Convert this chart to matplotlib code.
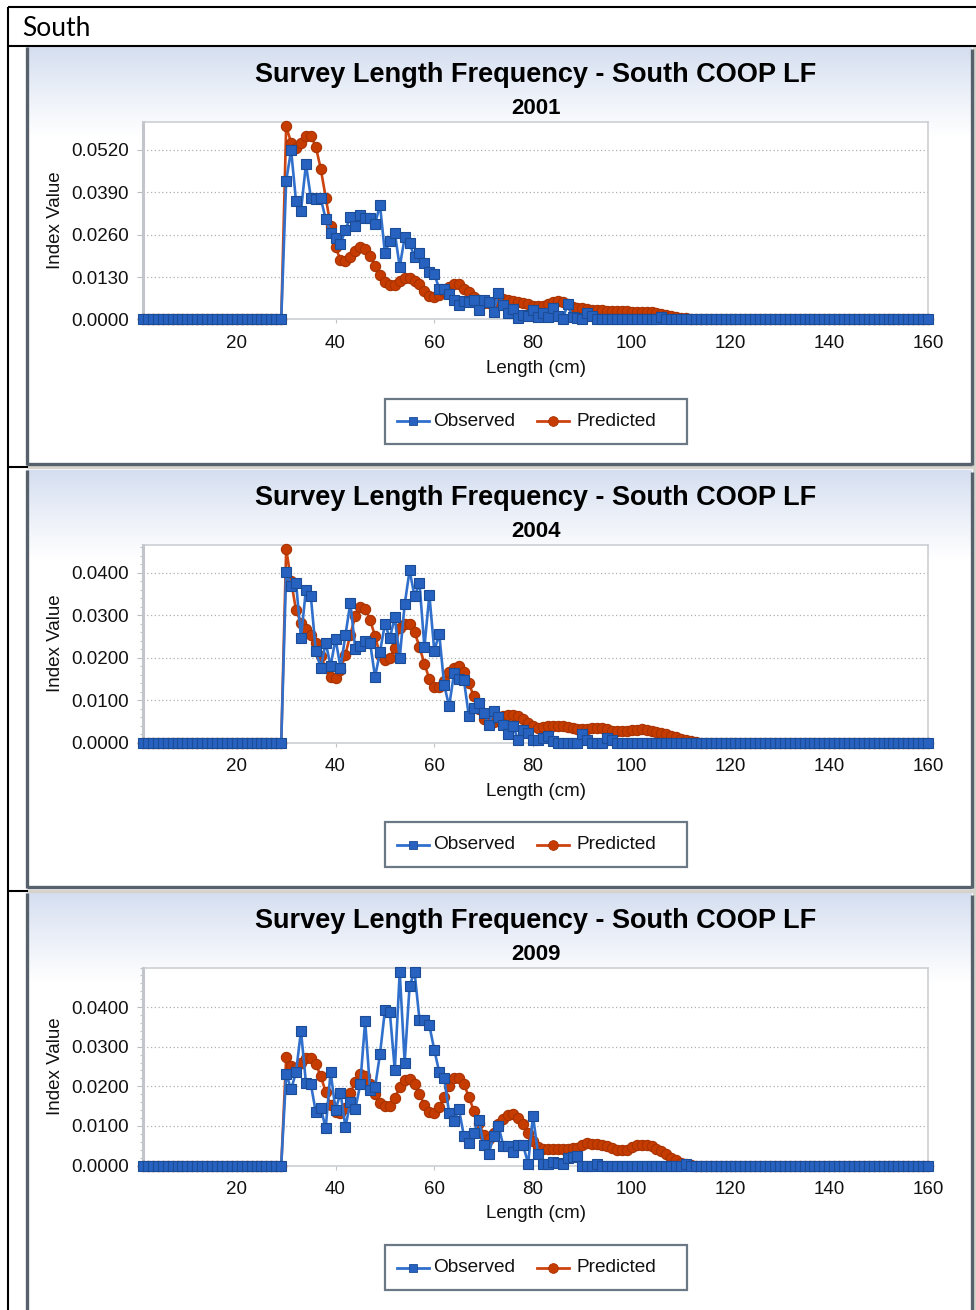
import numpy as np
import matplotlib
matplotlib.use("Agg")
import matplotlib.pyplot as plt
from matplotlib.lines import Line2D
from matplotlib.patches import Rectangle
from matplotlib.ticker import MultipleLocator, FormatStrFormatter, FixedLocator

# ---------------- data ----------------
lengths = np.arange(1, 161)          # length bins (cm)
first_bin = 29                       # first bin of the listed values; all other bins are 0

years = ["2001", "2004", "2009"]

obs_2001 = [0.0, 0.0425, 0.0519, 0.0362, 0.0333, 0.0476, 0.0374, 0.0369, 0.0372, 0.0308,
            0.0265, 0.0249, 0.0231, 0.0275, 0.0315, 0.0288, 0.0320, 0.0311, 0.0310, 0.0293,
            0.0351, 0.0203, 0.0242, 0.0266, 0.0161, 0.0252, 0.0233, 0.0191, 0.0203, 0.0173,
            0.0145, 0.0140, 0.0094, 0.0094, 0.0079, 0.0061, 0.0045, 0.0058, 0.0055, 0.0061,
            0.0030, 0.0060, 0.0053, 0.0022, 0.0082, 0.0043, 0.0020, 0.0033, 0.0005, 0.0014,
            0.0010, 0.0028, 0.0009, 0.0019, 0.0009, 0.0036, 0.0012, 0.0, 0.0046, 0.0007,
            0.0005, 0.0002, 0.0019, 0.0012, 0.0, 0.0, 0.0, 0.0, 0.0, 0.0,
            0.0, 0.0, 0.0, 0.0, 0.0, 0.0, 0.0, 0.0007, 0.0, 0.0]
pred_2001 = [0.0, 0.0593, 0.0542, 0.0527, 0.0542, 0.0563, 0.0563, 0.0530, 0.0462, 0.0374,
             0.0288, 0.0221, 0.0183, 0.0178, 0.0191, 0.0209, 0.0221, 0.0216, 0.0196, 0.0165,
             0.0137, 0.0114, 0.0107, 0.0107, 0.0119, 0.0127, 0.0127, 0.0119, 0.0109, 0.0086,
             0.0071, 0.0068, 0.0075, 0.0088, 0.0100, 0.0109, 0.0108, 0.0094, 0.0084, 0.0070,
             0.0060, 0.0052, 0.0050, 0.0055, 0.0060, 0.0062, 0.0061, 0.0058, 0.0055, 0.0050,
             0.0046, 0.0042, 0.0040, 0.0042, 0.0048, 0.0055, 0.0058, 0.0055, 0.0047, 0.0038,
             0.0035, 0.0034, 0.0032, 0.0030, 0.0029, 0.0028, 0.0027, 0.0026, 0.0026, 0.0025,
             0.0025, 0.0024, 0.0024, 0.0024, 0.0023, 0.0022, 0.0021, 0.0018, 0.0015, 0.0012,
             0.0009, 0.0006, 0.0004, 0.0002, 0.0001, 0.0]

obs_2004 = [0.0, 0.0402, 0.0368, 0.0376, 0.0246, 0.0360, 0.0344, 0.0215, 0.0176, 0.0235,
            0.0180, 0.0244, 0.0176, 0.0252, 0.0329, 0.0220, 0.0227, 0.0240, 0.0235, 0.0154,
            0.0213, 0.0279, 0.0246, 0.0295, 0.0199, 0.0325, 0.0405, 0.0344, 0.0376, 0.0224,
            0.0348, 0.0216, 0.0256, 0.0136, 0.0085, 0.0163, 0.0150, 0.0147, 0.0062, 0.0082,
            0.0093, 0.0070, 0.0042, 0.0074, 0.0060, 0.0042, 0.0021, 0.0038, 0.0005, 0.0030,
            0.0023, 0.0007, 0.0007, 0.0011, 0.0016, 0.0003, 0.0, 0.0, 0.0, 0.0,
            0.0, 0.0019, 0.0005, 0.0, 0.0, 0.0, 0.0011, 0.0007, 0.0, 0.0]
pred_2004 = [0.0, 0.0456, 0.0380, 0.0311, 0.0282, 0.0266, 0.0254, 0.0235, 0.0203, 0.0176,
             0.0154, 0.0151, 0.0170, 0.0207, 0.0254, 0.0297, 0.0318, 0.0315, 0.0289, 0.0250,
             0.0207, 0.0195, 0.0199, 0.0223, 0.0270, 0.0278, 0.0278, 0.0260, 0.0225, 0.0185,
             0.0150, 0.0131, 0.0130, 0.0144, 0.0166, 0.0176, 0.0180, 0.0165, 0.0139, 0.0109,
             0.0078, 0.0056, 0.0048, 0.0048, 0.0055, 0.0062, 0.0065, 0.0064, 0.0062, 0.0056,
             0.0047, 0.0039, 0.0035, 0.0036, 0.0038, 0.0040, 0.0040, 0.0038, 0.0036, 0.0033,
             0.0031, 0.0031, 0.0032, 0.0033, 0.0034, 0.0033, 0.0031, 0.0028, 0.0026, 0.0026,
             0.0027, 0.0029, 0.0030, 0.0031, 0.0030, 0.0028, 0.0025, 0.0022, 0.0019, 0.0016,
             0.0012, 0.0009, 0.0006, 0.0003, 0.0001, 0.0]

obs_2009 = [0.0, 0.0232, 0.0192, 0.0236, 0.0340, 0.0209, 0.0205, 0.0135, 0.0146, 0.0094,
            0.0237, 0.0139, 0.0184, 0.0097, 0.0160, 0.0142, 0.0205, 0.0365, 0.0190, 0.0198,
            0.0281, 0.0392, 0.0387, 0.0241, 0.0489, 0.0260, 0.0454, 0.0489, 0.0368, 0.0368,
            0.0354, 0.0292, 0.0236, 0.0222, 0.0133, 0.0112, 0.0142, 0.0074, 0.0057, 0.0083,
            0.0116, 0.0053, 0.0028, 0.0074, 0.0100, 0.0049, 0.0049, 0.0034, 0.0051, 0.0051,
            0.0005, 0.0125, 0.0030, 0.0005, 0.0005, 0.0008, 0.0007, 0.0003, 0.0019, 0.0022,
            0.0025, 0.0, 0.0, 0.0, 0.0004, 0.0, 0.0, 0.0, 0.0, 0.0,
            0.0, 0.0, 0.0, 0.0, 0.0, 0.0, 0.0, 0.0, 0.0, 0.0,
            0.0, 0.0, 0.0004, 0.0, 0.0]
pred_2009 = [0.0, 0.0274, 0.0251, 0.0247, 0.0258, 0.0271, 0.0271, 0.0256, 0.0226, 0.0186,
             0.0153, 0.0136, 0.0133, 0.0146, 0.0184, 0.0211, 0.0230, 0.0226, 0.0205, 0.0180,
             0.0157, 0.0149, 0.0150, 0.0171, 0.0197, 0.0216, 0.0219, 0.0205, 0.0180, 0.0153,
             0.0135, 0.0132, 0.0148, 0.0172, 0.0201, 0.0220, 0.0222, 0.0205, 0.0174, 0.0138,
             0.0108, 0.0078, 0.0066, 0.0083, 0.0104, 0.0118, 0.0127, 0.0129, 0.0121, 0.0104,
             0.0083, 0.0062, 0.0047, 0.0042, 0.0042, 0.0042, 0.0042, 0.0042, 0.0042, 0.0043,
             0.0045, 0.0051, 0.0056, 0.0055, 0.0054, 0.0052, 0.0049, 0.0045, 0.0040, 0.0038,
             0.0040, 0.0047, 0.0051, 0.0053, 0.0053, 0.0049, 0.0042, 0.0036, 0.0028, 0.0019,
             0.0014, 0.0007, 0.0004, 0.0002, 0.0]

observed = [obs_2001, obs_2004, obs_2009]
predicted = [pred_2001, pred_2004, pred_2009]

y_max = [0.0607, 0.0466, 0.0500]
y_step = [0.013, 0.010, 0.010]
y_top_tick = [0.052, 0.040, 0.040]
y_minor = [None, 0.002, 0.002]
x_ticks = [20, 40, 60, 80, 100, 120, 140, 160]

title_text = "Survey Length Frequency - South COOP LF"
header_text = "South"


def full_series(vals):
    arr = np.zeros(len(lengths))
    start = first_bin - lengths[0]
    arr[start:start + len(vals)] = vals
    return arr


# ---------------- figure ----------------
W, H = 976, 1310
fig = plt.figure(figsize=(W / 100, H / 100), dpi=100)
fig.patch.set_facecolor("white")
CH = "Liberation Sans"


def fx(px):
    return px / W


def fy(py):
    return 1 - py / H


def hline(x0, x1, y, color="black", lw=1.5, z=10):
    fig.add_artist(Line2D([fx(x0), fx(x1)], [fy(y), fy(y)], transform=fig.transFigure,
                          color=color, lw=lw, zorder=z, solid_capstyle="butt"))


def vline(x, y0, y1, color="black", lw=1.5, z=10):
    fig.add_artist(Line2D([fx(x), fx(x)], [fy(y0), fy(y1)], transform=fig.transFigure,
                          color=color, lw=lw, zorder=z, solid_capstyle="butt"))


# table frame
hline(8, 976, 7)
vline(8, 7, 1310)
hline(8, 976, 45.5)
fig.text(fx(22), fy(28), header_text, fontsize=19, family=["Lato", "DejaVu Sans"],
         ha="left", va="center", color="black")

# right grey strip
fig.add_artist(Rectangle((fx(973), fy(1310)), fx(976) - fx(973), (1310 - 47) / H,
                         transform=fig.transFigure, facecolor="#d6d3cc", edgecolor="none", zorder=0))

panel_tops = [47, 470, 893]
panel_bottoms = [465, 888, 1314]
sep_lines = [467.5, 890.5]
for s in sep_lines:
    hline(27, 976, s, color="#d6d3cc", lw=2.5, z=1)
    hline(8, 28, s, color="black", lw=1.5, z=10)

top_col = np.array([0xd4, 0xde, 0xf0]) / 255.0
for i, T in enumerate(panel_tops):
    B = panel_bottoms[i]
    ph = B - T
    bg = fig.add_axes([fx(27), fy(B), fx(972) - fx(27), ph / H], zorder=0)
    bg.set_xlim(0, 945)
    bg.set_ylim(ph, 0)
    bg.axis("off")
    bg.add_patch(Rectangle((0, 0), 945, ph, facecolor="white", edgecolor="none"))
    n = 90
    t = np.linspace(0, 1, n)[:, None]
    grad = top_col[None, None, :] * (1 - t[:, :, None] ** 0.9) + np.ones(3)[None, None, :] * (t[:, :, None] ** 0.9)
    bg.imshow(grad, extent=[0, 945, n, 0], aspect="auto", interpolation="bilinear", zorder=1)
    bg.set_xlim(0, 945)
    bg.set_ylim(ph, 0)
    # border
    vline(27, T, min(B, 1310), color="#56616c", lw=2.4, z=5)
    vline(972, T + 2, min(B, 1310), color="#56616c", lw=2.4, z=5)
    if B < 1310:
        hline(27, 972, B - 1, color="#56616c", lw=2.4, z=5)

    # titles
    fig.text(fx(536), fy(T + 28), title_text, fontsize=19.5, fontweight="bold", family=CH,
             ha="center", va="center", color="black")
    fig.text(fx(536), fy(T + 61.5), years[i], fontsize=16, fontweight="bold", family=CH,
             ha="center", va="center", color="black")

    # plot axes
    ax = fig.add_axes([fx(143), fy(T + 272.5), fx(928) - fx(143), 198 / H], zorder=3)
    ax.set_facecolor("white")
    ax.set_xlim(1, 160)
    ax.set_ylim(0, y_max[i])
    ax.plot(lengths, full_series(predicted[i]), color="#cc4410", lw=1.9,
            marker="o", ms=7.4, mfc="#c63c00", mec="#a83200", mew=0.8,
            clip_on=False, zorder=3)
    ax.plot(lengths, full_series(observed[i]), color="#3070cc", lw=1.9,
            marker="s", ms=7.2, mfc="#2762c0", mec="#1c4c96", mew=0.8,
            clip_on=False, zorder=4)

    yt = np.round(np.arange(0, y_top_tick[i] + 1e-9, y_step[i]), 4)
    ax.yaxis.set_major_locator(FixedLocator(yt))
    ax.yaxis.set_major_formatter(FormatStrFormatter("%.4f"))
    if y_minor[i]:
        ax.yaxis.set_minor_locator(MultipleLocator(y_minor[i]))
    ax.xaxis.set_major_locator(FixedLocator(x_ticks))
    ax.tick_params(axis="y", which="major", length=4, width=0.8, color="#b8bcc0",
                   pad=6, labelsize=13.5, labelcolor="#111111")
    ax.tick_params(axis="y", which="minor", length=2.5, width=0.8, color="#c0c4c8")
    ax.tick_params(axis="x", which="major", length=3, width=0.8, color="#c0c4c8",
                   pad=8, labelsize=13.5, labelcolor="#111111")
    for lab in ax.get_xticklabels() + ax.get_yticklabels():
        lab.set_family(CH)
    ax.grid(axis="y", which="major", linestyle=(0, (1, 2)), color="#b0b0b0", lw=0.9)
    ax.set_axisbelow(True)
    for side, sp in ax.spines.items():
        sp.set_color("#c8ccd0")
        sp.set_linewidth(1.1)
    ax.spines["left"].set_linewidth(2.2)
    ax.spines["left"].set_color("#c2c6ca")

    fig.text(fx(55), fy(T + 173.5), "Index Value", rotation=90, fontsize=13.5, family=CH,
             ha="center", va="center", color="#111111")
    fig.text(fx(536), fy(T + 321), "Length (cm)", fontsize=13.5, family=CH,
             ha="center", va="center", color="#111111")

    # legend (drawn manually to match box geometry)
    lx0, lx1, ly0, ly1 = 385, 687, T + 352, T + 397
    fig.add_artist(Rectangle((fx(lx0), fy(ly1)), fx(lx1) - fx(lx0), (ly1 - ly0) / H,
                             transform=fig.transFigure, facecolor="white",
                             edgecolor="#6b7886", lw=1.6, zorder=6))
    ym = (ly0 + ly1) / 2
    fig.add_artist(Line2D([fx(397), fx(429)], [fy(ym), fy(ym)], transform=fig.transFigure,
                          color="#3070cc", lw=2.0, zorder=7))
    fig.add_artist(Line2D([fx(413)], [fy(ym)], transform=fig.transFigure, marker="s",
                          ms=6.4, mfc="#2762c0", mec="#1c4c96", mew=0.6, zorder=8))
    fig.text(fx(433), fy(ym), "Observed", fontsize=13.7, family=CH, ha="left", va="center",
             color="#111111", zorder=8)
    fig.add_artist(Line2D([fx(537), fx(569)], [fy(ym), fy(ym)], transform=fig.transFigure,
                          color="#cc4410", lw=2.0, zorder=7))
    fig.add_artist(Line2D([fx(553)], [fy(ym)], transform=fig.transFigure, marker="o",
                          ms=7.0, mfc="#c63c00", mec="#a83200", mew=0.6, zorder=8))
    fig.text(fx(576), fy(ym), "Predicted", fontsize=13.7, family=CH, ha="left", va="center",
             color="#111111", zorder=8)

fig.savefig("out.png", dpi=100)
